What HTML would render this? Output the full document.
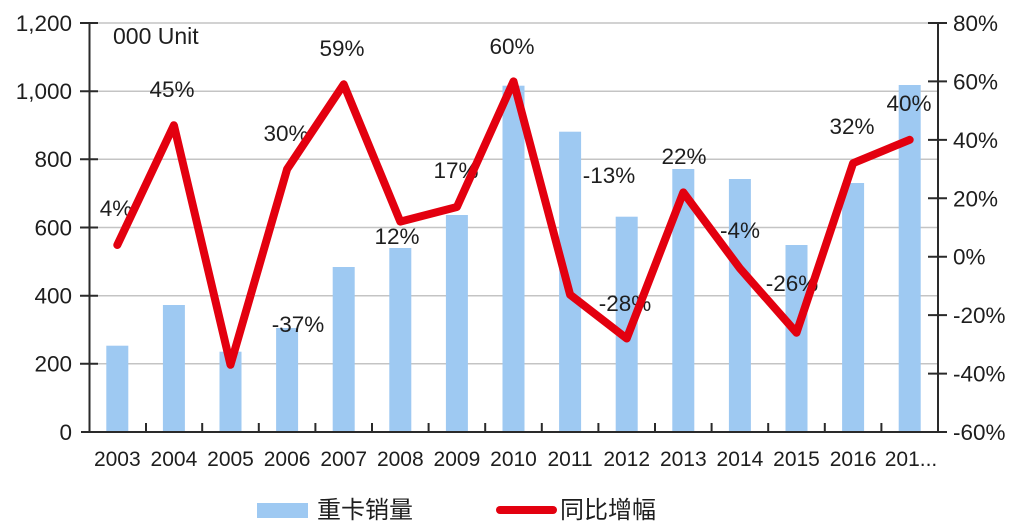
<!DOCTYPE html>
<html><head><meta charset="utf-8"><style>
html,body{margin:0;padding:0;background:#fff;}
svg{display:block;}
text{font-family:"Liberation Sans","Noto Sans CJK SC",sans-serif;fill:#1e1e1e;}
</style></head><body>
<svg width="1030" height="524" viewBox="0 0 1030 524" xmlns="http://www.w3.org/2000/svg">
<rect width="1030" height="524" fill="#fff"/>
<!-- gridlines -->
<g stroke="#c4c4c4" stroke-width="1.5">
<line x1="89" y1="23" x2="938" y2="23"/>
<line x1="89" y1="91.2" x2="938" y2="91.2"/>
<line x1="89" y1="159.3" x2="938" y2="159.3"/>
<line x1="89" y1="227.5" x2="938" y2="227.5"/>
<line x1="89" y1="295.7" x2="938" y2="295.7"/>
<line x1="89" y1="363.8" x2="938" y2="363.8"/>
</g>
<!-- bars -->
<g fill="#9ec9f2">
<rect x="106.3" y="345.7" width="22" height="86.3"/>
<rect x="162.9" y="305" width="22" height="127"/>
<rect x="219.5" y="351.7" width="22" height="80.3"/>
<rect x="276.1" y="328" width="22" height="104"/>
<rect x="332.7" y="267" width="22" height="165"/>
<rect x="389.3" y="248" width="22" height="184"/>
<rect x="445.9" y="215" width="22" height="217"/>
<rect x="502.5" y="85.7" width="22" height="346.3"/>
<rect x="559.1" y="131.7" width="22" height="300.3"/>
<rect x="615.7" y="216.7" width="22" height="215.3"/>
<rect x="672.3" y="169" width="22" height="263"/>
<rect x="728.9" y="179" width="22" height="253"/>
<rect x="785.5" y="245" width="22" height="187"/>
<rect x="842.1" y="183" width="22" height="249"/>
<rect x="898.7" y="85" width="22" height="347"/>
</g>
<!-- axes -->
<g stroke="#2a2a2a" stroke-width="2">
<line x1="89.5" y1="22" x2="89.5" y2="432"/>
<line x1="938" y1="22" x2="938" y2="432"/>
<line x1="81" y1="432" x2="947" y2="432"/>
<line x1="80" y1="23" x2="98" y2="23"/>
<line x1="80" y1="91.2" x2="98" y2="91.2"/>
<line x1="80" y1="159.3" x2="98" y2="159.3"/>
<line x1="80" y1="227.5" x2="98" y2="227.5"/>
<line x1="80" y1="295.7" x2="98" y2="295.7"/>
<line x1="80" y1="363.8" x2="98" y2="363.8"/>
<line x1="928" y1="23" x2="947" y2="23"/>
<line x1="928" y1="81.4" x2="947" y2="81.4"/>
<line x1="928" y1="139.9" x2="947" y2="139.9"/>
<line x1="928" y1="198.3" x2="947" y2="198.3"/>
<line x1="928" y1="256.7" x2="947" y2="256.7"/>
<line x1="928" y1="315.1" x2="947" y2="315.1"/>
<line x1="928" y1="373.6" x2="947" y2="373.6"/>
<line x1="146" y1="423" x2="146" y2="432"/>
<line x1="202.2" y1="423" x2="202.2" y2="432"/>
<line x1="258.8" y1="423" x2="258.8" y2="432"/>
<line x1="315.4" y1="423" x2="315.4" y2="432"/>
<line x1="372" y1="423" x2="372" y2="432"/>
<line x1="428.6" y1="423" x2="428.6" y2="432"/>
<line x1="485.2" y1="423" x2="485.2" y2="432"/>
<line x1="541.8" y1="423" x2="541.8" y2="432"/>
<line x1="598.4" y1="423" x2="598.4" y2="432"/>
<line x1="655" y1="423" x2="655" y2="432"/>
<line x1="711.6" y1="423" x2="711.6" y2="432"/>
<line x1="768.2" y1="423" x2="768.2" y2="432"/>
<line x1="824.8" y1="423" x2="824.8" y2="432"/>
<line x1="881.4" y1="423" x2="881.4" y2="432"/>
</g>
<!-- left labels -->
<g font-size="22.5" text-anchor="end">
<text x="72" y="31">1,200</text>
<text x="72" y="99">1,000</text>
<text x="72" y="167">800</text>
<text x="72" y="235.5">600</text>
<text x="72" y="303.5">400</text>
<text x="72" y="371.5">200</text>
<text x="72" y="440">0</text>
</g>
<!-- right labels -->
<g font-size="22.5" text-anchor="start">
<text x="953" y="31">80%</text>
<text x="953" y="89.4">60%</text>
<text x="953" y="147.9">40%</text>
<text x="953" y="206.3">20%</text>
<text x="953" y="264.7">0%</text>
<text x="953" y="323.1">-20%</text>
<text x="953" y="381.6">-40%</text>
<text x="953" y="440">-60%</text>
</g>
<!-- x labels -->
<g font-size="21" text-anchor="middle">
<text x="117.3" y="466">2003</text>
<text x="173.9" y="466">2004</text>
<text x="230.5" y="466">2005</text>
<text x="287.1" y="466">2006</text>
<text x="343.7" y="466">2007</text>
<text x="400.3" y="466">2008</text>
<text x="456.9" y="466">2009</text>
<text x="513.5" y="466">2010</text>
<text x="570.1" y="466">2011</text>
<text x="626.7" y="466">2012</text>
<text x="683.3" y="466">2013</text>
<text x="739.9" y="466">2014</text>
<text x="796.5" y="466">2015</text>
<text x="853.1" y="466">2016</text>
<text x="911" y="466">201...</text>
</g>
<text x="113" y="44" font-size="23">000 Unit</text>
<!-- data labels -->
<g font-size="22.5" text-anchor="middle">
<text x="116" y="216">4%</text>
<text x="172" y="97">45%</text>
<text x="342" y="56">59%</text>
<text x="286" y="141">30%</text>
<text x="298" y="332">-37%</text>
<text x="397" y="244">12%</text>
<text x="456" y="178">17%</text>
<text x="512" y="54">60%</text>
<text x="609" y="183">-13%</text>
<text x="625" y="311">-28%</text>
<text x="684" y="164">22%</text>
<text x="740" y="238">-4%</text>
<text x="792" y="291">-26%</text>
<text x="852" y="134">32%</text>
<text x="909" y="111">40%</text>
</g>
<!-- line -->
<polyline fill="none" stroke="#e3000f" stroke-width="8" stroke-linejoin="round" stroke-linecap="round"
points="117.3,245 173.9,125.2 230.5,364.8 287.1,169.1 343.7,84.3 400.3,221.6 456.9,207 513.5,81.4 570.1,294.7 626.7,338.5 683.3,192.4 739.9,268.4 796.5,332.7 853.1,163.2 909.7,139.8"/>
<!-- legend -->
<rect x="257" y="503" width="51" height="15" fill="#9ec9f2"/>
<text x="317" y="518" font-size="24" font-family="'Noto Sans CJK SC',sans-serif">重卡销量</text>
<line x1="500" y1="510" x2="553" y2="510" stroke="#e3000f" stroke-width="8" stroke-linecap="round"/>
<text x="560" y="518" font-size="24" font-family="'Noto Sans CJK SC',sans-serif">同比增幅</text>
</svg>
</body></html>
